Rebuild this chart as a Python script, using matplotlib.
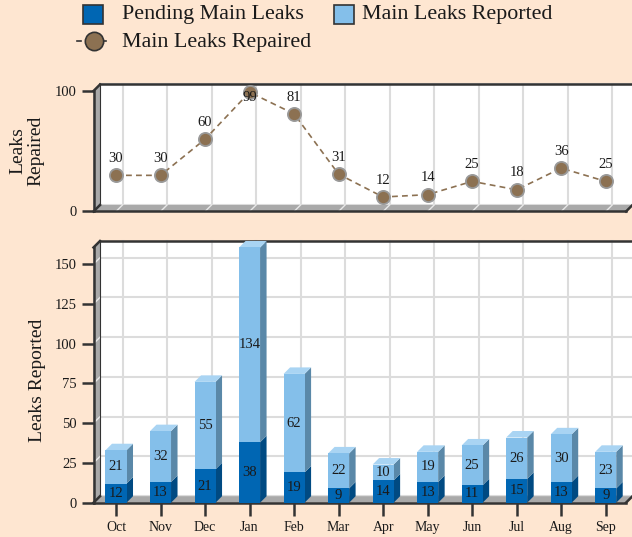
import matplotlib
matplotlib.use("Agg")
import matplotlib.pyplot as plt
from matplotlib.patches import Polygon, Rectangle

# ---- data -------------------------------------------------------------
months = ["Oct", "Nov", "Dec", "Jan", "Feb", "Mar", "Apr", "May", "Jun", "Jul", "Aug", "Sep"]
pending = [12, 13, 21, 38, 19, 9, 14, 13, 11, 15, 13, 9]
reported = [21, 32, 55, 134, 62, 22, 10, 19, 25, 26, 30, 23]
repaired = [30, 30, 60, 99, 81, 31, 12, 14, 25, 18, 36, 25]
bottom_ticks = [0, 25, 50, 75, 100, 125, 150]
top_ticks = [0, 100]

# ---- style ------------------------------------------------------------
BG = "#FEE6D1"
DARK_BLUE, DARK_BLUE_SIDE, DARK_BLUE_TOP = "#0066B3", "#004A82", "#2E84C6"
LIGHT_BLUE, LIGHT_BLUE_SIDE, LIGHT_BLUE_TOP = "#84BFEA", "#5A88A8", "#A9D4F3"
BROWN = "#8C7152"
WALL = "#A9A9A9"
EDGE = "#333333"
GRID = "#DCDCDC"
TXT = "#1A1A1A"

plt.rcParams["font.family"] = ["Liberation Serif", "DejaVu Serif"]

W, H, DPI = 632, 537, 100
fig = plt.figure(figsize=(W / DPI, H / DPI), dpi=DPI)
fig.patch.set_facecolor(BG)

DEPTH = 6.5          # pixel depth of the pseudo-3D extrusion
X_LEFT_PX = 93.5     # front-left edge of the plotting box
X_RIGHT_PX = 626.0
CAT0_PX, CAT_STEP_PX = 116.0, 44.52
BAR_W = 0.472
VALUE_FS = 10.5


def px_axes(top, bottom):
    return fig.add_axes([X_LEFT_PX / W, 1 - bottom / H,
                         (X_RIGHT_PX - X_LEFT_PX) / W, (bottom - top) / H])


def setup_box(ax, ymax, yticks, xgrid):
    x0 = (X_LEFT_PX - CAT0_PX) / CAT_STEP_PX
    x1 = (X_RIGHT_PX - CAT0_PX) / CAT_STEP_PX
    ax.set_xlim(x0, x1)
    ax.set_ylim(0, ymax)
    ax.patch.set_visible(False)
    for s in ax.spines.values():
        s.set_visible(False)
    h_px = ax.get_position().height * H
    dx = DEPTH / CAT_STEP_PX
    dy = DEPTH * ymax / h_px

    # back wall
    ax.add_patch(Rectangle((x0 + dx, dy), (x1 - x0) + 2, ymax, facecolor="white",
                           edgecolor="none", clip_on=False, zorder=0.5))
    # grid on back wall
    for t in yticks:
        ax.plot([x0 + dx, x1 + 2], [t + dy, t + dy], color=GRID, lw=1.5,
                clip_on=False, zorder=0.7, solid_capstyle="butt")
    for i in xgrid:
        ax.plot([i + dx, i + dx], [dy, ymax + dy], color=GRID, lw=1.5,
                clip_on=False, zorder=0.7)
    # left wall
    ax.add_patch(Polygon([(x0, 0), (x0, ymax), (x0 + dx, ymax + dy), (x0 + dx, dy)],
                         closed=True, facecolor=WALL, edgecolor="none",
                         clip_on=False, zorder=0.8))
    # floor
    ax.add_patch(Polygon([(x0, 0), (x1, 0), (x1 + dx, dy), (x0 + dx, dy)],
                         closed=True, facecolor=WALL, edgecolor="none",
                         clip_on=False, zorder=0.8))
    # light grid marks continuing over walls
    for t in yticks:
        ax.plot([x0, x0 + dx], [t, t + dy], color="#E8E8E8", lw=1.0,
                clip_on=False, zorder=0.9)
    for i in xgrid:
        ax.plot([i, i + dx], [0, dy], color="#E8E8E8", lw=1.0,
                clip_on=False, zorder=0.9)
    # outline
    kw = dict(color=EDGE, lw=1.8, clip_on=False, zorder=0.95, solid_capstyle="projecting")
    ax.plot([x0, x0], [0, ymax], **kw)
    ax.plot([x0, x0 + dx], [ymax, ymax + dy], **kw)
    ax.plot([x0 + dx, x1 + 2], [ymax + dy, ymax + dy], **kw)
    ax.plot([x0, x1], [0, 0], **kw)
    ax.plot([x1, x1 + dx], [0, dy], **kw)
    ax.plot([x0, x0 + dx], [0, dy], **kw)
    ax.plot([x0 + dx, x0 + dx], [dy, ymax + dy], color=EDGE, lw=0.8,
            clip_on=False, zorder=0.95)

    ax.set_yticks(yticks)
    ax.set_yticklabels([str(t) for t in yticks])
    ax.tick_params(axis="y", length=9, width=1.8, color=EDGE, pad=3,
                   labelsize=10.5, labelcolor=TXT)
    return dx, dy


cats = list(range(len(months)))

# ---- top panel: repaired line -------------------------------------------
ax_top = px_axes(91.0, 211.5)
TOP_MAX = 100
setup_box(ax_top, TOP_MAX, top_ticks, cats)
ax_top.set_xticks([])
ax_top.plot(cats, repaired, ls=(0, (3.5, 2.5)), color=BROWN, lw=1.2,
            marker="o", ms=9.5, mfc=BROWN, mec="#9A9A9A", mew=1.3,
            clip_on=False, zorder=3)
for i, v in zip(cats, repaired):
    ax_top.text(i, min(v + 14, 95), str(v), ha="center", va="center",
                fontsize=VALUE_FS, color=TXT, zorder=4)

# ---- bottom panel: stacked 3D columns ----------------------------------
ax_bot = px_axes(247.5, 502.7)
BOT_MAX = 160.5
dx, dy = setup_box(ax_bot, BOT_MAX, bottom_ticks, cats)


def draw_segment(ax, x, b, t, face, side, top, draw_top):
    t = min(t, BOT_MAX)
    hw = BAR_W / 2
    ax.add_patch(Polygon([(x + hw, b), (x + hw + dx, b + dy),
                          (x + hw + dx, t + dy), (x + hw, t)], closed=True,
                         facecolor=side, edgecolor="none", clip_on=False, zorder=2))
    ax.add_patch(Rectangle((x - hw, b), BAR_W, t - b, facecolor=face,
                           edgecolor="none", clip_on=False, zorder=2.1))
    if draw_top:
        ax.add_patch(Polygon([(x - hw, t), (x + hw, t), (x + hw + dx, t + dy),
                              (x - hw + dx, t + dy)], closed=True,
                             facecolor=top, edgecolor="none", clip_on=False, zorder=2))
    return (b + t) / 2


for i, p, r in zip(cats, pending, reported):
    m1 = draw_segment(ax_bot, i, 0, p, DARK_BLUE, DARK_BLUE_SIDE, DARK_BLUE_TOP, False)
    m2 = draw_segment(ax_bot, i, p, p + r, LIGHT_BLUE, LIGHT_BLUE_SIDE, LIGHT_BLUE_TOP, True)
    ax_bot.text(i, m1, str(p), ha="center", va="center", fontsize=VALUE_FS, color=TXT, zorder=4)
    ax_bot.text(i, m2, str(r), ha="center", va="center", fontsize=VALUE_FS, color=TXT, zorder=4)

ax_bot.set_xticks(cats)
ax_bot.set_xticklabels(months)
ax_bot.tick_params(axis="x", length=9, width=1.8, color=EDGE, pad=4,
                   labelsize=10, labelcolor=TXT)

# ---- axis titles and legend (figure pixel coordinates) -------------------
leg = fig.add_axes([0, 0, 1, 1], zorder=5)
leg.set_xlim(0, W)
leg.set_ylim(H, 0)
leg.axis("off")
leg.patch.set_visible(False)

leg.text(27, 151, "Leaks\nRepaired", rotation=90, fontsize=14, ha="center",
         va="center", multialignment="center", linespacing=1.1, color=TXT)
leg.text(37, 380, "Leaks Reported", rotation=90, fontsize=14, ha="center",
         va="center", color=TXT)

LEG_FS = 15.8
leg.add_patch(Rectangle((83, 5), 19.5, 19, facecolor=DARK_BLUE, edgecolor=EDGE, lw=1.2))
leg.text(122, 15, "Pending Main Leaks", fontsize=LEG_FS, va="center", ha="left", color=TXT)
leg.add_patch(Rectangle((334, 5), 20, 19, facecolor=LIGHT_BLUE, edgecolor=EDGE, lw=1.2))
leg.text(362, 15, "Main Leaks Reported", fontsize=LEG_FS, va="center", ha="left", color=TXT)
leg.plot([77, 81], [41, 41], color=EDGE, lw=1.2)
leg.plot([102, 106], [41, 41], color=EDGE, lw=1.2)
leg.plot([94], [41], marker="o", ms=13.2, mfc=BROWN, mec=EDGE, mew=1.2)
leg.text(122, 42, "Main Leaks Repaired", fontsize=LEG_FS, va="center", ha="left", color=TXT)

fig.savefig("out.png", dpi=DPI, facecolor=BG)
